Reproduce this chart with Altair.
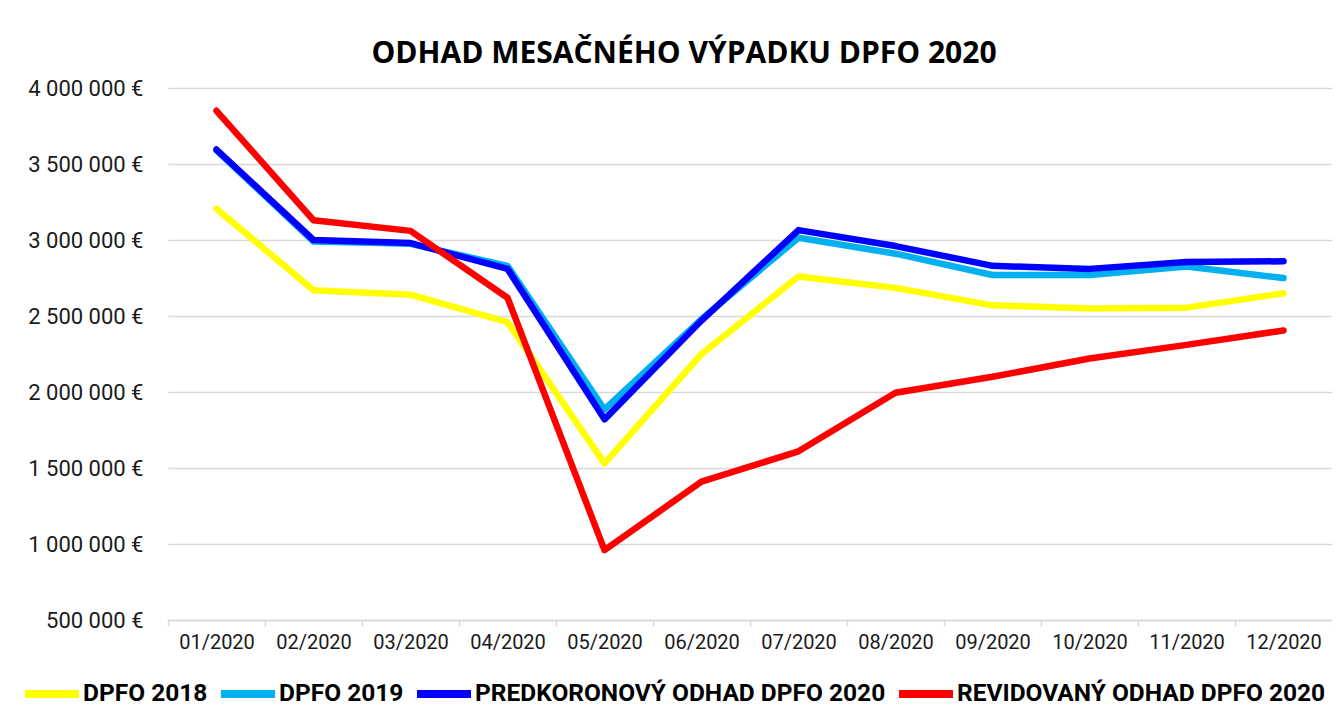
import altair as alt
import pandas as pd

months = ["01/2020", "02/2020", "03/2020", "04/2020", "05/2020", "06/2020",
          "07/2020", "08/2020", "09/2020", "10/2020", "11/2020", "12/2020"]
dpfo_2018 = [3205000, 2670000, 2640000, 2460000, 1530000, 2250000,
             2760000, 2685000, 2570000, 2550000, 2555000, 2650000]
dpfo_2019 = [3590000, 2990000, 2975000, 2830000, 1885000, 2480000,
             3015000, 2910000, 2770000, 2770000, 2825000, 2750000]
predkoronovy = [3595000, 3000000, 2980000, 2810000, 1820000, 2470000,
                3065000, 2960000, 2830000, 2810000, 2855000, 2860000]
revidovany = [3850000, 3130000, 3060000, 2620000, 960000, 1410000,
              1610000, 1995000, 2100000, 2220000, 2310000, 2405000]

series_names = ["DPFO 2018", "DPFO 2019",
                "PREDKORONOVÝ ODHAD DPFO 2020", "REVIDOVANÝ ODHAD DPFO 2020"]
series_values = [dpfo_2018, dpfo_2019, predkoronovy, revidovany]
colors = ["#FFFF00", "#00B0F0", "#0000FF", "#FF0000"]
y_ticks = [500000, 1000000, 1500000, 2000000, 2500000, 3000000, 3500000, 4000000]

rows = []
for name, vals in zip(series_names, series_values):
    for m, v in zip(months, vals):
        rows.append({"mesiac": m, "hodnota": v, "rad": name,
                     "poradie": series_names.index(name)})
df = pd.DataFrame(rows)

chart = alt.Chart(df).mark_line(
    strokeWidth=6.5, strokeCap="round", strokeJoin="round"
).encode(
    x=alt.X("mesiac:O", sort=months, bandPosition=0.5,
            scale=alt.Scale(type="band", paddingInner=0, paddingOuter=0),
            axis=alt.Axis(title=None, labelAngle=0, tickBand="extent",
                          domainColor="#d9d9d9", domainWidth=1.5,
                          tickColor="#d9d9d9", tickWidth=1.5, tickSize=6,
                          labelFont="Roboto", labelFontSize=20,
                          labelColor="#1a1a1a", labelPadding=6, grid=False)),
    y=alt.Y("hodnota:Q",
            scale=alt.Scale(domain=[500000, 4000000], nice=False, zero=False),
            axis=alt.Axis(title=None, values=y_ticks, ticks=False, domain=False,
                          labelExpr="replace(format(datum.value, ',.0f'), /,/g, ' ') + ' €'",
                          labelFont="Roboto", labelFontSize=22,
                          labelColor="#1a1a1a", labelPadding=25,
                          gridColor="#d9d9d9", gridWidth=1.5)),
    color=alt.Color("rad:N", sort=series_names,
                    scale=alt.Scale(domain=series_names, range=colors),
                    legend=alt.Legend(title=None, orient="none", direction="horizontal",
                                      legendX=-147, legendY=575,
                                      symbolType="stroke", symbolSize=2916,
                                      symbolStrokeWidth=8, labelLimit=600,
                                      labelFont="Roboto",
                                      labelFontWeight="bold", labelFontSize=24.5,
                                      labelColor="#000000", columnPadding=-3,
                                      labelOffset=0)),
    order=alt.Order("poradie:Q"),
).properties(
    width=1164, height=532,
    autosize=alt.AutoSizeParams(type="none"),
    padding={"left": 160, "top": 80, "right": 0, "bottom": 96},
    title=alt.TitleParams("ODHAD MESAČNÉHO VÝPADKU DPFO 2020", font="Open Sans",
                          fontSize=30, fontWeight="bold", color="#000000",
                          anchor="middle", dx=-66, offset=8),
).configure_view(stroke=None)

chart.save("out.html", embed_options={"renderer": "svg", "actions": False})
